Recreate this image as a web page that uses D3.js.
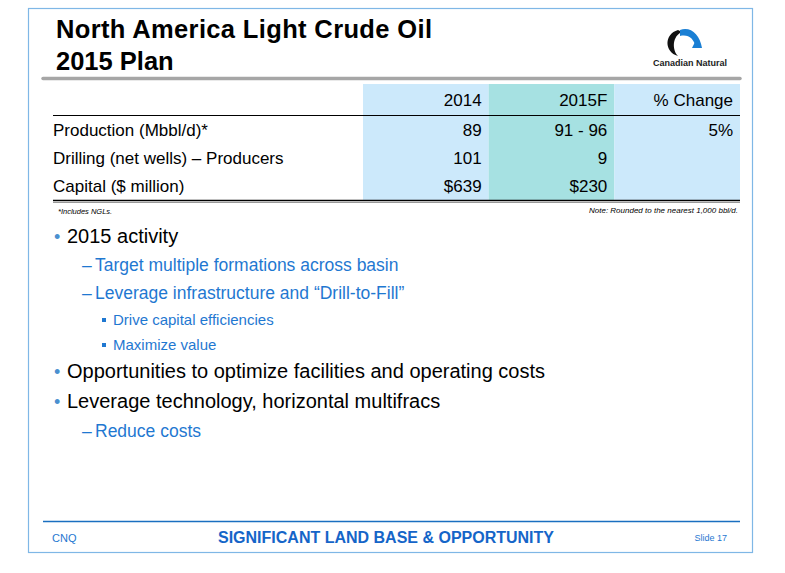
<!DOCTYPE html>
<html><head><meta charset="utf-8">
<script src="https://cdn.jsdelivr.net/npm/d3@7"></script>
<style>body{margin:0;background:#fff}text{font-family:"Liberation Sans",Arial,sans-serif}</style>
</head><body>
<svg id="slide" width="785" height="573"></svg>
<script>
// table data
var columns = ["2014", "2015F", "% Change"];
var rowLabels = ["Production (Mbbl/d)*", "Drilling (net wells) \u2013 Producers", "Capital ($ million)"];
var col2014 = ["89", "101", "$639"];
var col2015F = ["91 - 96", "9", "$230"];
var colChange = ["5%", "", ""];
var colFill = ["#cce9fb", "#a6e1e2", "#cce9fb"];

// bullet text, level 0/1/2
var bullets = [
  [0, "2015 activity"],
  [1, "Target multiple formations across basin"],
  [1, "Leverage infrastructure and \u201cDrill-to-Fill\u201d"],
  [2, "Drive capital efficiencies"],
  [2, "Maximize value"],
  [0, "Opportunities to optimize facilities and operating costs"],
  [0, "Leverage technology, horizontal multifracs"],
  [1, "Reduce costs"]
];
var bulletY = [243, 271, 299, 325, 350, 378, 408, 437];

var svg = d3.select("#slide");
var blue = "#1f78d1";

// frame
svg.append("rect").attr("x", 28.5).attr("y", 8.5).attr("width", 724).attr("height", 544)
  .attr("fill", "none").attr("stroke", "#7fb7e6").attr("stroke-width", 1.2);

// title
svg.append("text").attr("x", 56).attr("y", 38).attr("font-size", 25.5).attr("font-weight", "bold").attr("textLength", 376).text("North America Light Crude Oil");
svg.append("text").attr("x", 56).attr("y", 70).attr("font-size", 25.5).attr("font-weight", "bold").text("2015 Plan");

// logo
var logo = svg.append("g").attr("transform", "translate(686,46)");
logo.append("path").attr("d", "M-8,-16 C-22,-12 -22,6 -8,10 C-14,4 -14,-10 -4,-14 Z").attr("fill", "#111");
logo.append("path").attr("d", "M-6,-16 C4,-20 14,-12 16,2 L10,2 C8,-8 2,-12 -6,-10 Z").attr("fill", "#1a7fd4");
logo.append("path").attr("d", "M6,2 L10,-6 L14,2 Z").attr("fill", "#1a7fd4");
svg.append("text").attr("x", 690).attr("y", 66).attr("text-anchor", "middle").attr("font-size", 9)
  .attr("font-weight", "bold").attr("fill", "#222").text("Canadian Natural");

// grey rule
svg.append("line").attr("x1", 43).attr("x2", 740).attr("y1", 78.5).attr("y2", 78.5)
  .attr("stroke", "#a6a6a6").attr("stroke-width", 3.5).attr("stroke-linecap", "round");

// table
var x = d3.scaleBand().domain(columns).range([363, 740]);
var y = d3.scaleBand().domain(rowLabels).range([116, 200]);
var tableTop = 84;

svg.selectAll(".colbg").data(columns).enter().append("rect")
  .attr("x", d => x(d)).attr("y", tableTop).attr("width", x.bandwidth()).attr("height", 200 - tableTop)
  .attr("fill", (d, i) => colFill[i]);

svg.selectAll(".colhead").data(columns).enter().append("text")
  .attr("x", d => x(d) + x.bandwidth() - 7).attr("y", 106).attr("text-anchor", "end")
  .attr("font-size", 17).text(d => d);

svg.append("line").attr("x1", 53).attr("x2", 740).attr("y1", 115.5).attr("y2", 115.5).attr("stroke", "#000").attr("stroke-width", 1.2);

var cols = [col2014, col2015F, colChange];
rowLabels.forEach(function(r, i) {
  var ty = y(r) + y.bandwidth() / 2 + 6;
  svg.append("text").attr("x", 53).attr("y", ty).attr("font-size", 17).text(r);
  cols.forEach(function(c, j) {
    svg.append("text").attr("x", x(columns[j]) + x.bandwidth() - 7).attr("y", ty)
      .attr("text-anchor", "end").attr("font-size", 17).text(c[i]);
  });
});

svg.append("line").attr("x1", 53).attr("x2", 740).attr("y1", 200.5).attr("y2", 200.5).attr("stroke", "#000").attr("stroke-width", 1.3);
svg.append("line").attr("x1", 53).attr("x2", 740).attr("y1", 202.5).attr("y2", 202.5).attr("stroke", "#999").attr("stroke-width", 1);

svg.append("text").attr("x", 58).attr("y", 214).attr("font-size", 7.5).attr("font-style", "italic").text("*Includes NGLs.");
svg.append("text").attr("x", 738).attr("y", 213).attr("text-anchor", "end").attr("font-size", 8)
  .attr("font-style", "italic").text("Note: Rounded to the nearest 1,000 bbl/d.");

// bullets
bullets.forEach(function(b, i) {
  var lvl = b[0], by = bulletY[i];
  if (lvl === 0) {
    svg.append("text").attr("x", 54).attr("y", by).attr("font-size", 18).attr("fill", "#4a90d0").text("\u2022");
    svg.append("text").attr("x", 67).attr("y", by).attr("font-size", 20).text(b[1]);
  } else if (lvl === 1) {
    svg.append("text").attr("x", 82).attr("y", by).attr("font-size", 17.5).attr("fill", blue).text("\u2013");
    svg.append("text").attr("x", 95).attr("y", by).attr("font-size", 17.5).attr("fill", blue).text(b[1]);
  } else {
    svg.append("rect").attr("x", 102).attr("y", by - 7).attr("width", 4).attr("height", 4).attr("fill", blue);
    svg.append("text").attr("x", 113).attr("y", by).attr("font-size", 15).attr("fill", blue).text(b[1]);
  }
});

// footer
svg.append("line").attr("x1", 43).attr("x2", 740).attr("y1", 521.5).attr("y2", 521.5).attr("stroke", "#1a6fc0").attr("stroke-width", 1.5);
svg.append("text").attr("x", 52).attr("y", 542).attr("font-size", 11).attr("fill", blue).text("CNQ");
svg.append("text").attr("x", 386).attr("y", 543).attr("text-anchor", "middle").attr("font-size", 16)
  .attr("font-weight", "bold").attr("fill", "#1565c8").text("SIGNIFICANT LAND BASE & OPPORTUNITY");
svg.append("text").attr("x", 727).attr("y", 541).attr("text-anchor", "end").attr("font-size", 9).attr("fill", blue).text("Slide 17");
</script>
</body></html>
